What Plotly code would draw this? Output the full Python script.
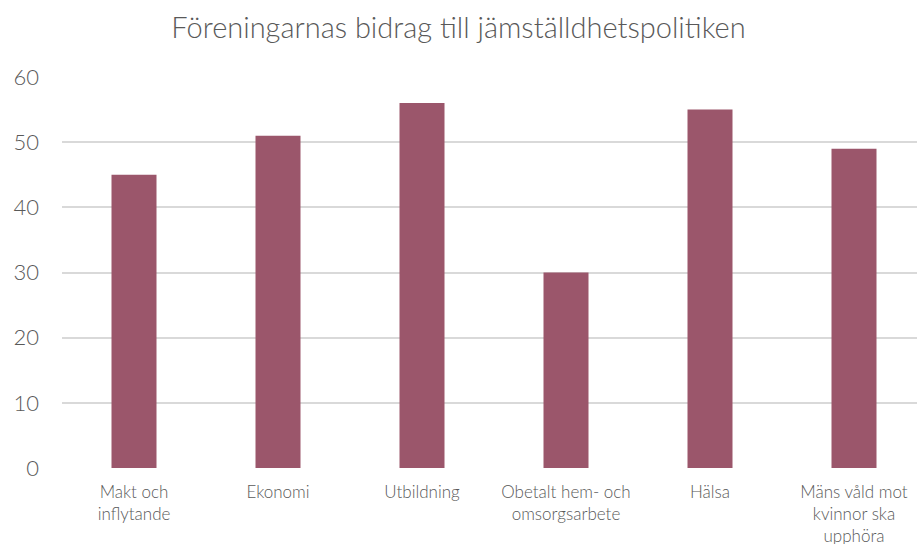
import plotly.graph_objects as go

categories = ["Makt och<br>inflytande", "Ekonomi", "Utbildning",
              "Obetalt hem- och<br>omsorgsarbete", "Hälsa",
              "Mäns våld mot<br>kvinnor ska<br>upphöra"]
values = [45, 51, 56, 30, 55, 49]
y_ticks = [0, 10, 20, 30, 40, 50, 60]

fig = go.Figure(go.Bar(
    x=list(range(len(categories))), y=values,
    marker=dict(color="#9B566B", line=dict(width=0)),
    width=0.3125, hoverinfo="skip",
))

fig.update_layout(
    width=917, height=544,
    margin=dict(l=62, r=0, t=77, b=76, autoexpand=False),
    paper_bgcolor="white", plot_bgcolor="white",
    font=dict(family="Lato", color="#595959", weight=300),
    title=dict(text="Föreningarnas bidrag till jämställdhetspolitiken",
               x=0.5, xanchor="center", y=0.948, yanchor="middle",
               font=dict(size=29, color="#595959", family="Lato", weight=300)),
    showlegend=False,
    xaxis=dict(
        tickmode="array", tickvals=list(range(len(categories))), ticktext=categories,
        range=[-0.5, -0.5 + 855/144], showgrid=False, zeroline=False,
        showline=False, ticks="", automargin=False, ticklabelstandoff=12,
        tickfont=dict(size=17, color="#595959", weight=300),
    ),
    yaxis=dict(
        range=[0, 60], tickvals=y_ticks, showgrid=True, gridcolor="#D9D9D9",
        gridwidth=1.5, zeroline=False, showline=False, ticks="", automargin=False,
        tickfont=dict(size=22, color="#595959", weight=300), ticklabelstandoff=22,
    ),
)

fig.write_html("out.html", config={"displayModeBar": False},
               post_script="document.body.style.margin='0';document.body.style.overflow='hidden';")
